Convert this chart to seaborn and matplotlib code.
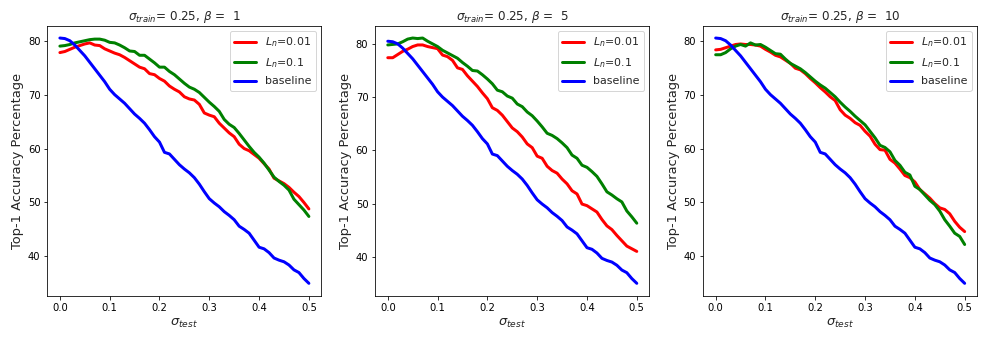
import numpy as np
import pandas as pd
import matplotlib
matplotlib.use("Agg")
import matplotlib.pyplot as plt
import seaborn as sns

# x grid: sigma_test from 0.0 to 0.5
sigma_test = np.round(np.arange(0, 51) * 0.01, 2)

baseline = [80.5, 80.4, 80.0, 79.2, 78.2, 77.2, 76.0, 74.8, 73.6, 72.4,
            71.0, 70.0, 69.2, 68.4, 67.4, 66.4, 65.6, 64.7, 63.5, 62.2,
            61.2, 59.3, 59.0, 58.0, 57.0, 56.2, 55.5, 54.6, 53.4, 52.0,
            50.7, 49.9, 49.2, 48.3, 47.6, 46.8, 45.6, 45.0, 44.3, 43.0,
            41.7, 41.4, 40.7, 39.7, 39.3, 39.0, 38.4, 37.5, 37.0, 35.9,
            35.0]

# beta = 1
b1_ln001 = [77.8, 78.0, 78.4, 78.8, 79.1, 79.4, 79.6, 79.2, 79.1, 78.5,
            78.1, 77.7, 77.4, 76.9, 76.3, 75.7, 75.1, 74.8, 73.9, 73.7,
            73.0, 72.5, 71.6, 71.0, 70.5, 69.6, 69.2, 69.0, 68.2, 66.6,
            66.2, 65.9, 64.7, 63.8, 62.9, 62.2, 60.8, 60.0, 59.6, 58.9,
            58.2, 57.2, 56.2, 54.5, 54.0, 53.5, 52.8, 51.9, 51.1, 50.0,
            48.8]
b1_ln01 = [79.0, 79.1, 79.3, 79.6, 79.8, 80.0, 80.2, 80.3, 80.3, 80.1,
           79.7, 79.6, 79.2, 78.7, 78.1, 78.0, 77.3, 77.3, 76.6, 75.9,
           75.1, 75.1, 74.3, 73.7, 72.9, 72.1, 71.4, 71.0, 70.4, 69.5,
           68.6, 67.8, 66.9, 65.4, 64.5, 63.9, 62.8, 61.6, 60.4, 59.3,
           58.4, 57.3, 56.0, 54.7, 53.9, 53.2, 52.3, 50.6, 49.6, 48.6,
           47.4]

# beta = 5
b5_ln001 = [77.4, 77.4, 78.0, 78.6, 79.0, 79.5, 79.8, 79.8, 79.5, 79.3,
            79.1, 77.9, 77.6, 76.9, 75.5, 75.2, 74.0, 73.0, 72.0, 70.8,
            69.7, 68.0, 67.5, 66.6, 65.4, 64.2, 63.5, 62.5, 61.2, 60.5,
            58.9, 58.5, 57.0, 56.2, 55.7, 54.6, 53.7, 52.4, 51.8, 49.9,
            49.6, 49.0, 48.4, 47.0, 45.8, 45.1, 44.0, 43.0, 42.0, 41.5,
            41.0]
b5_ln01 = [79.8, 79.9, 80.0, 80.4, 80.9, 81.1, 81.0, 81.1, 80.5, 80.0,
           79.5, 78.8, 78.3, 77.8, 77.3, 76.5, 75.8, 75.0, 74.9, 74.2,
           73.4, 72.5, 71.3, 71.0, 70.2, 69.8, 68.7, 68.2, 67.2, 66.5,
           65.5, 64.4, 63.2, 62.8, 62.2, 61.4, 60.5, 59.1, 58.5, 57.2,
           56.8, 56.0, 55.1, 53.7, 52.2, 51.6, 50.9, 50.3, 48.6, 47.5,
           46.3]

# beta = 10
b10_ln001 = [78.3, 78.4, 78.7, 79.0, 79.3, 79.4, 79.3, 79.3, 79.2, 79.0,
             78.4, 77.9, 77.3, 77.0, 76.4, 75.8, 74.9, 74.6, 73.9, 73.0,
             72.2, 71.3, 70.5, 69.6, 68.9, 67.2, 66.2, 65.6, 64.8, 64.3,
             63.2, 62.3, 60.8, 59.8, 59.7, 58.0, 57.3, 56.2, 55.0, 54.6,
             53.8, 52.4, 51.6, 50.8, 49.8, 49.0, 48.7, 47.9, 46.5, 45.4,
             44.6]
b10_ln01 = [77.4, 77.4, 77.8, 78.5, 79.0, 79.3, 79.0, 79.6, 79.2, 79.3,
            78.8, 78.2, 77.6, 77.5, 76.6, 75.8, 75.3, 74.8, 74.1, 73.3,
            72.5, 71.8, 71.2, 70.4, 69.6, 68.6, 67.7, 66.9, 66.0, 65.2,
            64.4, 63.2, 62.0, 60.6, 60.2, 59.4, 57.8, 56.9, 55.6, 55.1,
            53.0, 52.4, 51.4, 50.4, 49.6, 48.4, 46.8, 45.6, 44.3, 43.7,
            42.2]

betas = [1, 5, 10]
ln001_runs = [b1_ln001, b5_ln001, b10_ln001]
ln01_runs = [b1_ln01, b5_ln01, b10_ln01]
labels = ["$L_n$=0.01", "$L_n$=0.1", "baseline"]
colors = ["red", "green", "blue"]

sns.set_style("ticks")
plt.rcParams["font.family"] = ["DejaVu Sans"]

fig, axes = plt.subplots(1, 3, figsize=(988 / 72, 339 / 72), dpi=72)
fig.subplots_adjust(left=0.048, right=0.989, top=0.924, bottom=0.128, wspace=0.197)

for ax, beta, r1, r2 in zip(axes, betas, ln001_runs, ln01_runs):
    df = pd.DataFrame({
        "sigma_test": np.tile(sigma_test, 3),
        "acc": np.concatenate([r1, r2, baseline]),
        "run": np.repeat(labels, len(sigma_test)),
    })
    sns.lineplot(data=df, x="sigma_test", y="acc", hue="run",
                 palette=colors, linewidth=3, ax=ax)
    ax.set_title(r"$\sigma_{train}$= 0.25, $\beta$ =  " + str(beta), fontsize=12)
    ax.set_xlabel(r"$\sigma_{test}$", fontsize=13)
    ax.set_ylabel("Top-1 Accuracy Percentage", fontsize=13)
    ax.set_xticks([0.0, 0.1, 0.2, 0.3, 0.4, 0.5])
    ax.set_yticks([40, 50, 60, 70, 80])
    ax.tick_params(labelsize=10, colors="black")
    for s in ax.spines.values():
        s.set_visible(True)
        s.set_color("black")
    ax.legend(loc="upper right", fontsize=11, title=None, labelspacing=0.6,
              edgecolor="#cccccc")

fig.savefig("out.png", dpi=72)
